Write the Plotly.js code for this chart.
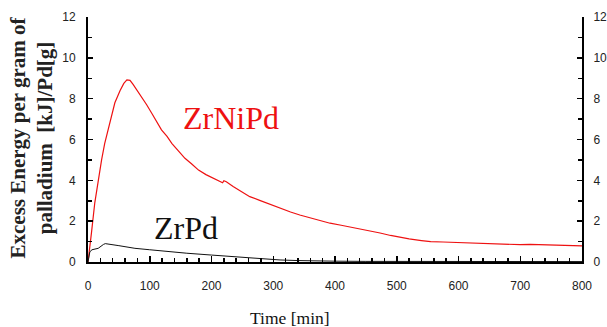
<!DOCTYPE html>
<html>
<head>
<meta charset="utf-8">
<script src="https://cdn.plot.ly/plotly-3.0.1.min.js"></script>
<style>html,body{margin:0;padding:0;background:#fff;}#chart{width:607px;height:327px;}</style>
</head>
<body>
<div id="chart"></div>
<script>
const zrNiPdTime = [0,2,5.5,11,16.5,22,27,35,43.5,52,58,63,68,73,80,87,95,103,111,119,128,136,146,157,168,179,191,203,212,218,220,224,235,250,262,278,292,310,328,343,360,378,392,410,424,440,456,473,490,505,520,540,555,575,600,625,651,675,700,716,740,760,780,800];
const zrNiPdEnergy = [0,0.6,1.4,2.9,4.0,5.0,5.8,6.8,7.8,8.4,8.75,8.92,8.9,8.7,8.4,8.1,7.7,7.3,6.85,6.47,6.15,5.8,5.45,5.08,4.8,4.5,4.28,4.1,3.95,3.88,3.98,3.93,3.7,3.4,3.2,3.02,2.85,2.65,2.45,2.3,2.15,2.0,1.9,1.8,1.72,1.62,1.52,1.42,1.3,1.2,1.13,1.05,1.0,0.98,0.95,0.92,0.88,0.87,0.85,0.86,0.83,0.82,0.8,0.79];
const zrPdTime = [0,3,6.5,16.5,25,28,50,76,100,130,160,200,230,260,290,311,340,360,400,450,500,550,600,650,700,750,800];
const zrPdEnergy = [0,0.5,0.6,0.67,0.86,0.9,0.8,0.67,0.6,0.5,0.43,0.34,0.27,0.2,0.14,0.1,0.07,0.05,0.04,0.03,0.03,0.02,0.02,0.02,0.02,0.02,0.02];
const seriesNames = ["ZrNiPd", "ZrPd"];
const xTicks = [0,100,200,300,400,500,600,700,800];
const yTicks = [0,2,4,6,8,10,12];
const xTitle = "Time [min]";
const yTitle = "<b>Excess Energy per gram of</b><br><b>palladium  [kJ]/Pd[g]</b>";

const SERIF = 'Liberation Serif';
const SANS = 'Liberation Sans';

const traces = [
  {x: zrNiPdTime, y: zrNiPdEnergy, type: 'scatter', mode: 'lines', line: {color: '#ee1111', width: 1.2}, name: seriesNames[0]},
  {x: zrPdTime, y: zrPdEnergy, type: 'scatter', mode: 'lines', line: {color: '#111111', width: 1}, name: seriesNames[1]}
];

const tickFont = {family: SANS, size: 12, color: '#222'};
function yAxis(extra) {
  return Object.assign({
    range: [0, 12], tickvals: yTicks, ticktext: yTicks.map(String),
    showgrid: false, zeroline: false, showline: true, linecolor: '#000', linewidth: 2,
    ticks: 'inside', ticklen: 5, tickwidth: 1.5, tickcolor: '#000',
    minor: {ticks: 'inside', dtick: 1, ticklen: 4, tickwidth: 1.5, tickcolor: '#000', showgrid: false},
    tickfont: tickFont, ticklabelstandoff: 8
  }, extra);
}
const layout = {
  width: 607, height: 327,
  margin: {l: 88, r: 25, t: 17, b: 65},
  paper_bgcolor: '#fff', plot_bgcolor: '#fff',
  showlegend: false,
  xaxis: {
    range: [0, 800], tickvals: xTicks, ticktext: xTicks.map(String),
    showgrid: false, zeroline: false, showline: true, linecolor: '#000', linewidth: 2,
    ticks: 'inside', ticklen: 6, tickwidth: 1.5, tickcolor: '#000',
    minor: {ticks: 'inside', dtick: 20, ticklen: 4, tickwidth: 1.5, tickcolor: '#000', showgrid: false},
    tickfont: tickFont, ticklabelstandoff: 12
  },
  yaxis: yAxis({}),
  yaxis2: yAxis({overlaying: 'y', side: 'right', ticklabelstandoff: 7}),
  annotations: [
    {text: yTitle, xref: 'paper', yref: 'paper', x: 0, y: 0.5, xshift: -57, yshift: 2, textangle: -90,
     showarrow: false, xanchor: 'center', yanchor: 'middle',
     font: {family: SERIF, size: 21, color: '#222'}, align: 'center'},
    {text: xTitle, xref: 'paper', yref: 'paper', x: 0, y: 0, xshift: 202, yshift: -56,
     showarrow: false, xanchor: 'center', yanchor: 'middle',
     font: {family: SERIF, size: 17.5, color: '#111'}},
    {text: seriesNames[0], xref: 'x', yref: 'y', x: 232, y: 7.05, showarrow: false, xanchor: 'center', yanchor: 'middle',
     font: {family: SERIF, size: 32, color: '#ee1111'}},
    {text: seriesNames[1], xref: 'x', yref: 'y', x: 159, y: 1.65, showarrow: false, xanchor: 'center', yanchor: 'middle',
     font: {family: SERIF, size: 32, color: '#111'}}
  ]
};
traces.push({x: [0], y: [0], yaxis: 'y2', type: 'scatter', mode: 'markers', marker: {opacity: 0}, hoverinfo: 'skip', showlegend: false});
Plotly.newPlot('chart', traces, layout, {displayModeBar: false, staticPlot: true});
</script>
</body>
</html>
